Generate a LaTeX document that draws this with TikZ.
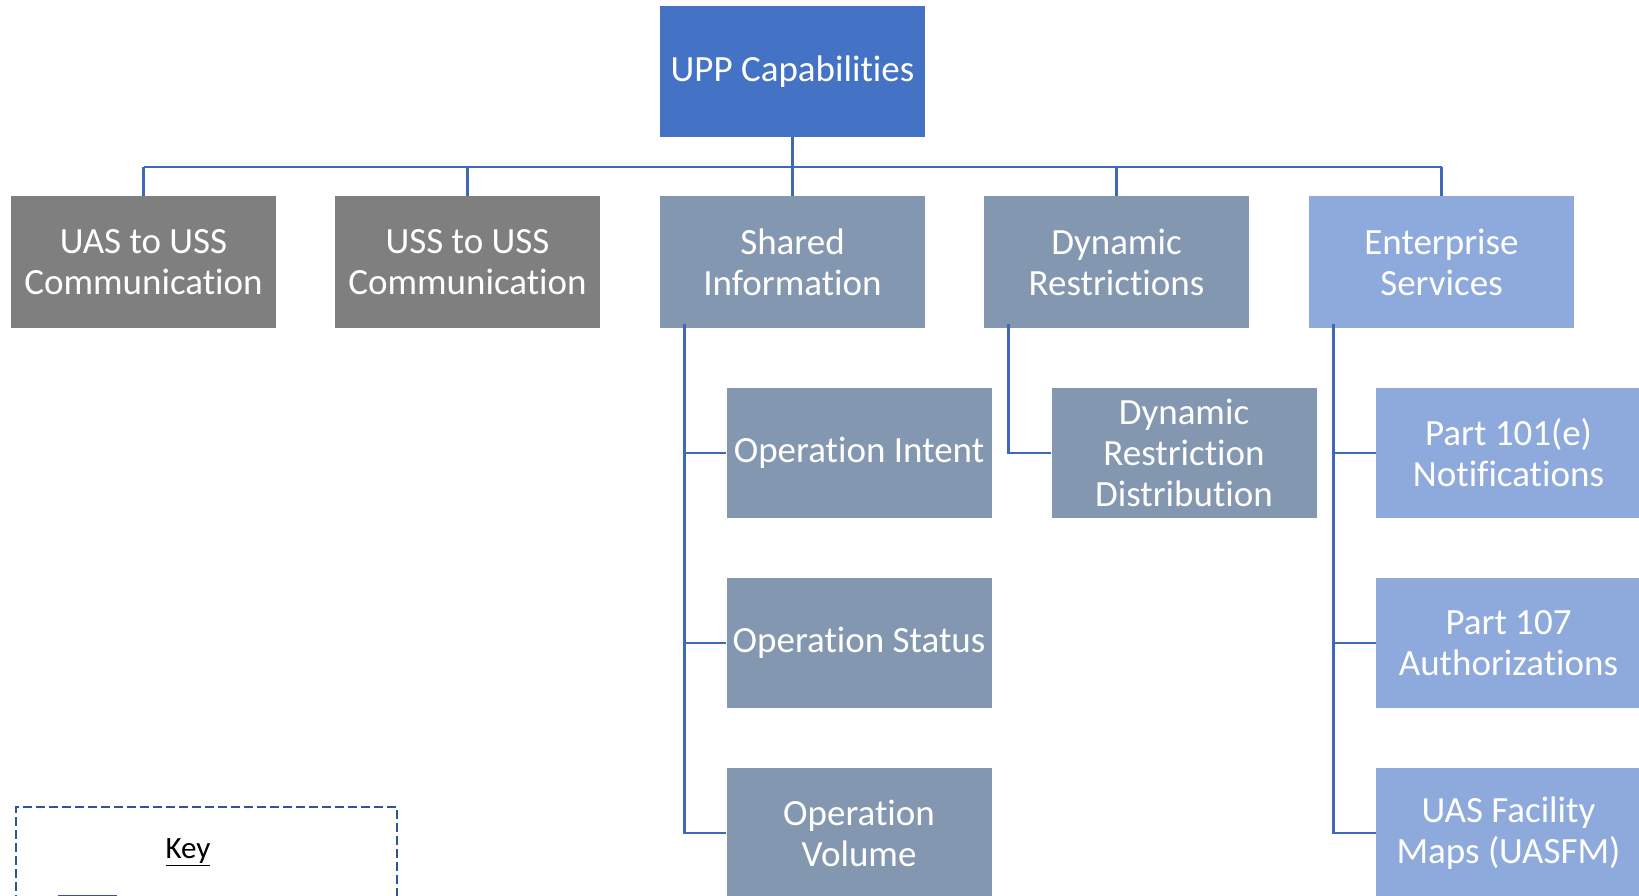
\documentclass[tikz,border=0pt]{standalone}
\usepackage{fontspec}
\setmainfont{Carlito}[Ligatures=NoCommon]
\definecolor{topblue}{HTML}{4472C4}
\definecolor{grayb}{HTML}{7F7F7F}
\definecolor{slateb}{HTML}{8497B0}
\definecolor{lightb}{HTML}{8EA9DB}
\definecolor{linec}{HTML}{4068B8}
\definecolor{keyc}{HTML}{2F5597}
\tikzset{
  box/.style={draw=none, minimum width=265pt, minimum height=131pt, inner sep=0pt,
    text=white, align=center, font=\fontsize{37}{41}\selectfont},
  sub/.style={box, minimum height=130pt},
  conn/.style={draw=linec, line width=2.8pt},
}
\begin{document}
\begin{tikzpicture}[x=1pt,y=-1pt]
\useasboundingbox (0,0) rectangle (1639,896);
\fill[white] (0,0) rectangle (1639,896);
% top
\node[box, fill=topblue] (top) at (792.5,71.5) {UPP Capabilities};
% level 2
\node[box, fill=grayb] (uas) at (143.5,262) {UAS to USS\\Communication};
\node[box, fill=grayb] (uss) at (467.5,262) {USS to USS\\Communication};
\node[box, fill=slateb] (shared) at (792.5,262) {Shared\\Information};
\node[box, fill=slateb] (dyn) at (1116.5,262) {Dynamic\\Restrictions};
\node[box, fill=lightb] (ent) at (1441.5,262) {Enterprise\\Services};
% level 3
\node[sub, fill=slateb] (oi) at (859,453) {Operation Intent};
\node[sub, fill=slateb] (os) at (859,643) {Operation Status};
\node[sub, fill=slateb] (ov) at (859,833) {Operation\\Volume};
\node[sub, fill=slateb] (drd) at (1184,453) {Dynamic\\Restriction\\Distribution};
\node[sub, fill=lightb] (p101) at (1508.5,453) {Part 101(e)\\Notifications};
\node[sub, fill=lightb] (p107) at (1508.5,643) {Part 107\\Authorizations};
\node[sub, fill=lightb] (fac) at (1508.5,833) {UAS Facility\\Maps (UASFM)};
% bus
\coordinate (bus) at (0,167);
\draw[conn] (uas.north |- bus) -- (ent.north |- bus);
\draw[conn] (top.south) -- (top.south |- bus);
\foreach \n in {uas,uss,shared,dyn,ent}
  \draw[conn] (\n.north) -- (\n.north |- bus);
% spines
\coordinate (sx) at ([xshift=25pt]shared.south west);
\coordinate (dx) at ([xshift=25pt]dyn.south west);
\coordinate (ex) at ([xshift=25pt]ent.south west);
\draw[conn] ([yshift=4pt]sx) |- (ov.west);
\draw[conn] (sx |- oi.west) -- (oi.west);
\draw[conn] (sx |- os.west) -- (os.west);
\draw[conn] ([yshift=4pt]dx) |- (drd.west);
\draw[conn] ([yshift=4pt]ex) |- (fac.west);
\draw[conn] (ex |- p101.west) -- (p101.west);
\draw[conn] (ex |- p107.west) -- (p107.west);
% key
\draw[draw=keyc, line width=2.8pt, dash pattern=on 9pt off 4pt] (16,930) -- (16,807) -- (397,807) -- (397,930);
\node[font=\fontsize{31}{36}\selectfont, text=black] (key) at (188,852) {\underline{Key}};
\node[draw=keyc, fill=topblue, line width=1pt, minimum width=58pt, minimum height=30pt, inner sep=0pt, anchor=north west] (kb) at (58,895) {};
\end{tikzpicture}
\end{document}
